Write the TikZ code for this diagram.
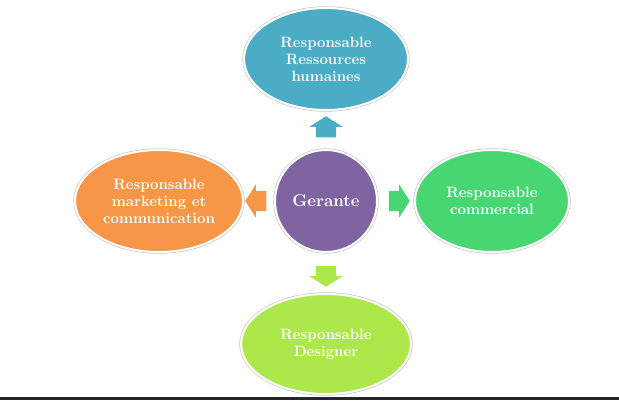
\documentclass[tikz,border=0pt]{standalone}
\usepackage{tikz}
\usetikzlibrary{positioning,shapes.geometric,shapes.arrows,calc}

\definecolor{hrblue}{HTML}{4BACC6}
\definecolor{gerpurple}{HTML}{8064A2}
\definecolor{mkorange}{HTML}{F79646}
\definecolor{comgreen}{HTML}{48D673}
\definecolor{deslime}{HTML}{ADE84B}

\tikzset{
  role/.style={ellipse, fill=#1, draw=white, line width=2pt, preaction={draw=black!22, line width=3.4pt}, text=white, font=\bfseries\fontsize{15}{17}\selectfont, align=center, inner sep=0pt},
  bigarrow/.style={single arrow, fill=#1, inner xsep=0pt, inner ysep=10pt, minimum height=21pt, single arrow head extend=6.5pt, single arrow tip angle=115}
}

\begin{document}
\begin{tikzpicture}[x=1pt,y=1pt]
\useasboundingbox (0,0) rectangle (619,400);
\fill[black!85] (0,0) rectangle (619,3);

\node[role=gerpurple, circle, minimum size=102pt, font=\bfseries\fontsize{17}{19}\selectfont] (ger) at (326,199) {Gerante};
\node[role=hrblue, minimum width=164pt, minimum height=102pt, above=38pt of ger] (rh) {Responsable\\Ressources\\humaines};
\node[role=mkorange, minimum width=168pt, minimum height=102pt, left=30pt of ger] (mk) {Responsable\\marketing et\\communication};
\node[role=comgreen, minimum width=154pt, minimum height=102pt, right=36pt of ger] (com) {Responsable\\commercial};
\node[role=deslime, minimum width=170pt, minimum height=100pt, below=40pt of ger] (des) {Responsable\\Designer};

\node[bigarrow=hrblue, rotate=90] (aup) at ($(ger.north)!.5!(rh.south)$) {};
\node[bigarrow=mkorange, rotate=180] (aleft) at ($(ger.west)!.5!(mk.east)$) {};
\node[bigarrow=comgreen] (aright) at ($(ger.east)!.5!(com.west)$) {};
\node[bigarrow=deslime, rotate=-90] (adown) at ($(ger.south)!.5!(des.north)$) {};
\end{tikzpicture}
\end{document}
